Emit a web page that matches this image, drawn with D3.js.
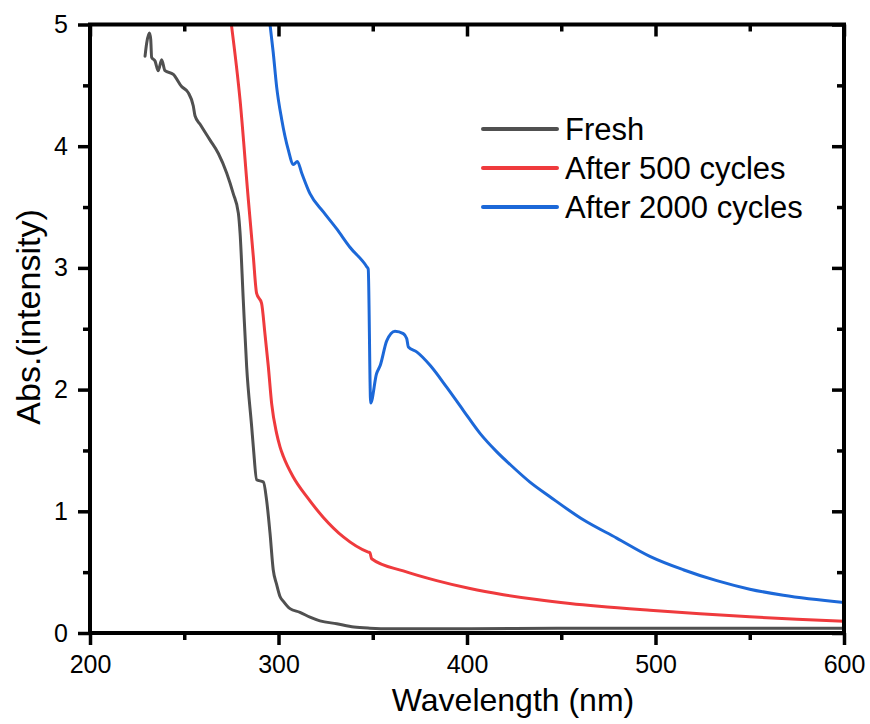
<!DOCTYPE html>
<html>
<head>
<meta charset="utf-8">
<script src="https://cdn.jsdelivr.net/npm/d3@7"></script>
<style>
  html, body { margin: 0; padding: 0; background: #fff; }
  svg { display: block; font-family: "Liberation Sans", Arial, sans-serif; }
</style>
</head>
<body>
<svg id="chart" width="870" height="724"></svg>
<script>
// ---- Data ----
const seriesNames = ["Fresh", "After 500 cycles", "After 2000 cycles"];
const seriesColors = ["#505050", "#ef3a3d", "#1c68d8"];

const freshWavelength = [229.2, 230.1, 231.5, 232.2, 232.7, 234.5, 236.2, 238.0, 239.8, 244.2, 248.6, 252.1, 254.8, 255.7, 258.4, 263.7, 268.1, 272.5, 276.0, 278.7, 279.6, 281.3, 283.1, 285.8, 286.7, 288.4, 292.0, 293.7, 295.5, 297.2, 299.0, 300.8, 302.6, 306.1, 311.4, 316.7, 322.0, 330.9, 340.0, 348.5, 360, 400, 450, 500, 550, 600];
const freshAbs = [4.74, 4.85, 4.93, 4.88, 4.73, 4.70, 4.62, 4.71, 4.62, 4.59, 4.49, 4.44, 4.33, 4.25, 4.18, 4.05, 3.94, 3.78, 3.61, 3.45, 3.29, 2.74, 2.19, 1.69, 1.52, 1.26, 1.24, 1.09, 0.82, 0.52, 0.40, 0.30, 0.26, 0.20, 0.17, 0.13, 0.10, 0.076, 0.05, 0.04, 0.035, 0.035, 0.04, 0.04, 0.04, 0.04];

const cyc500Wavelength = [275.0, 279.6, 284.0, 286.6, 288.4, 291.0, 292.8, 294.6, 296.4, 299.0, 300.8, 302.6, 307.9, 315.0, 323.8, 334.4, 347.6, 348.5, 349.4, 366.2, 383.9, 401.6, 419.3, 437.0, 454.6, 470.0, 497.0, 523.6, 550.0, 575.0, 600.0];
const cyc500Abs = [5.0, 4.38, 3.56, 3.10, 2.79, 2.71, 2.46, 2.19, 1.88, 1.64, 1.53, 1.45, 1.28, 1.12, 0.95, 0.79, 0.665, 0.66, 0.61, 0.51, 0.43, 0.365, 0.315, 0.275, 0.243, 0.22, 0.187, 0.158, 0.133, 0.113, 0.097];

const cyc2000Wavelength = [295.5, 297.2, 299.0, 301.7, 305.2, 307.9, 310.0, 312.3, 316.7, 323.8, 330.9, 337.9, 346.8, 347.6, 348.9, 352.0, 354.0, 357.4, 361.8, 366.2, 368.0, 368.9, 373.3, 380.4, 389.2, 398.0, 406.9, 415.7, 424.6, 433.4, 444.0, 461.7, 479.4, 497.0, 514.7, 532.5, 550.0, 567.8, 600.0];
const cyc2000Abs = [5.0, 4.77, 4.49, 4.22, 3.97, 3.85, 3.875, 3.78, 3.61, 3.46, 3.32, 3.17, 3.01, 2.99, 1.89, 2.13, 2.20, 2.40, 2.48, 2.46, 2.42, 2.35, 2.31, 2.20, 2.02, 1.83, 1.64, 1.49, 1.36, 1.24, 1.12, 0.93, 0.78, 0.63, 0.52, 0.43, 0.36, 0.31, 0.25];

const xTicks = [200, 300, 400, 500, 600];
const xMinorTicks = [250, 350, 450, 550];
const yTicks = [0, 1, 2, 3, 4, 5];
const yMinorTicks = [0.5, 1.5, 2.5, 3.5, 4.5];
const xTitle = "Wavelength (nm)";
const yTitle = "Abs.(intensity)";

const seriesData = [
  freshWavelength.map((w, i) => ({ x: w, y: freshAbs[i] })),
  cyc500Wavelength.map((w, i) => ({ x: w, y: cyc500Abs[i] })),
  cyc2000Wavelength.map((w, i) => ({ x: w, y: cyc2000Abs[i] }))
];

// ---- Layout ----
const plotL = 90, plotR = 844, plotT = 24.5, plotB = 633;
const svg = d3.select("#chart");

const x = d3.scaleLinear().domain([200, 600]).range([plotL, plotR]);
const y = d3.scaleLinear().domain([0, 5]).range([plotB, plotT]);

svg.append("defs").append("clipPath").attr("id", "plotclip")
  .append("rect").attr("x", plotL).attr("y", plotT).attr("width", plotR - plotL).attr("height", plotB - plotT);

// curves
const line = d3.line().curve(d3.curveMonotoneX).x(d => x(d.x)).y(d => y(d.y));
const curves = svg.append("g").attr("clip-path", "url(#plotclip)");
seriesData.forEach((data, i) => {
  curves.append("path")
    .datum(data)
    .attr("d", line)
    .attr("fill", "none")
    .attr("stroke", seriesColors[i])
    .attr("stroke-width", 3)
    .attr("stroke-linejoin", "round")
    .attr("stroke-linecap", "round");
});

function styleAxis(g, w) {
  g.select(".domain").remove();
  g.selectAll(".tick line").attr("stroke", "#000").attr("stroke-width", w);
  g.selectAll(".tick text").attr("fill", "#000").attr("font-size", 25)
    .attr("font-family", "'Liberation Sans', Arial, sans-serif");
}

// bottom axis
svg.append("g").attr("transform", `translate(0,${plotB})`)
  .call(d3.axisBottom(x).tickValues(xTicks).tickSize(12).tickPadding(10).tickFormat(d3.format("d")))
  .call(g => styleAxis(g, 3.5));
svg.append("g").attr("transform", `translate(0,${plotB})`)
  .call(d3.axisBottom(x).tickValues(xMinorTicks).tickSize(7).tickFormat(""))
  .call(g => styleAxis(g, 3.5));
// top axis (inward)
svg.append("g").attr("transform", `translate(0,${plotT})`)
  .call(d3.axisTop(x).tickValues(xTicks).tickSize(-12).tickFormat(""))
  .call(g => styleAxis(g, 3.5));
svg.append("g").attr("transform", `translate(0,${plotT})`)
  .call(d3.axisTop(x).tickValues(xMinorTicks).tickSize(-7).tickFormat(""))
  .call(g => styleAxis(g, 3.5));
// left axis
svg.append("g").attr("transform", `translate(${plotL},0)`)
  .call(d3.axisLeft(y).tickValues(yTicks).tickSize(12).tickPadding(10).tickFormat(d3.format("d")))
  .call(g => styleAxis(g, 3.5));
svg.append("g").attr("transform", `translate(${plotL},0)`)
  .call(d3.axisLeft(y).tickValues(yMinorTicks).tickSize(7).tickFormat(""))
  .call(g => styleAxis(g, 3.5));
// right axis (inward)
svg.append("g").attr("transform", `translate(${plotR},0)`)
  .call(d3.axisRight(y).tickValues(yTicks).tickSize(-12).tickFormat(""))
  .call(g => styleAxis(g, 3.5));
svg.append("g").attr("transform", `translate(${plotR},0)`)
  .call(d3.axisRight(y).tickValues(yMinorTicks).tickSize(-7).tickFormat(""))
  .call(g => styleAxis(g, 3.5));

// frame
svg.append("rect")
  .attr("x", plotL).attr("y", plotT)
  .attr("width", plotR - plotL).attr("height", plotB - plotT)
  .attr("fill", "none").attr("stroke", "#000").attr("stroke-width", 4);

// axis titles
svg.append("text")
  .attr("x", 513).attr("y", 711)
  .attr("text-anchor", "middle").attr("font-size", 32).attr("fill", "#000")
  .text(xTitle);
svg.append("text")
  .attr("transform", `translate(40,317) rotate(-90)`)
  .attr("text-anchor", "middle").attr("font-size", 34).attr("fill", "#000")
  .text(yTitle);

// legend
const legend = svg.append("g");
const legendY = [129, 168, 207];
seriesNames.forEach((name, i) => {
  legend.append("line")
    .attr("x1", 483).attr("x2", 557)
    .attr("y1", legendY[i]).attr("y2", legendY[i])
    .attr("stroke", seriesColors[i]).attr("stroke-width", 4)
    .attr("stroke-linecap", "round");
  legend.append("text")
    .attr("x", 565).attr("y", legendY[i] + 11)
    .attr("font-size", 31).attr("fill", "#000")
    .text(name);
});
</script>
</body>
</html>
